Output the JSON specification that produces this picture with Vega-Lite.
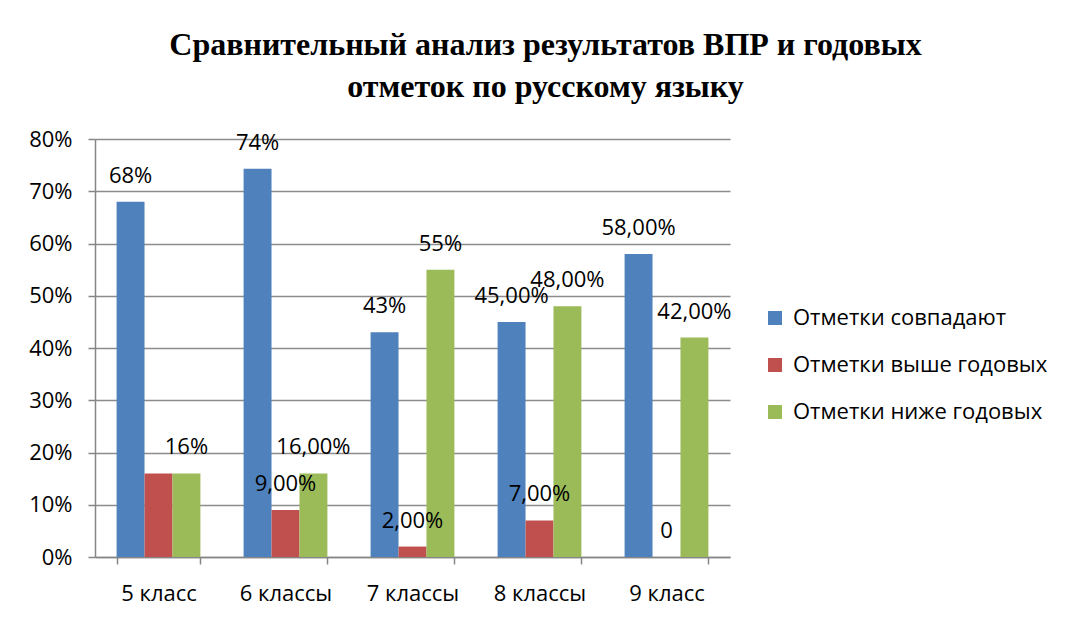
{
  "$schema": "https://vega.github.io/schema/vega-lite/v6.json",
  "width": 635,
  "height": 418,
  "autosize": {"type": "none"},
  "padding": {"left": 95, "top": 139, "right": 341, "bottom": 60},
  "background": "white",
  "title": {
    "text": ["Сравнительный анализ результатов ВПР и годовых", "отметок по русскому языку"],
    "font": "Liberation Serif",
    "fontSize": 32,
    "fontWeight": "bold",
    "color": "#000000",
    "anchor": "middle",
    "dx": 133,
    "offset": 24,
    "lineHeight": 42
  },
  "data": {
    "values": [
      {"cls": "5 класс", "series": "Отметки совпадают", "value": 68, "label": "68%"},
      {"cls": "5 класс", "series": "Отметки выше годовых", "value": 16, "label": ""},
      {"cls": "5 класс", "series": "Отметки ниже годовых", "value": 16, "label": "16%"},
      {"cls": "6 классы", "series": "Отметки совпадают", "value": 74.3, "label": "74%"},
      {"cls": "6 классы", "series": "Отметки выше годовых", "value": 9, "label": "9,00%"},
      {"cls": "6 классы", "series": "Отметки ниже годовых", "value": 16, "label": "16,00%"},
      {"cls": "7 классы", "series": "Отметки совпадают", "value": 43, "label": "43%"},
      {"cls": "7 классы", "series": "Отметки выше годовых", "value": 2, "label": "2,00%"},
      {"cls": "7 классы", "series": "Отметки ниже годовых", "value": 55, "label": "55%"},
      {"cls": "8 классы", "series": "Отметки совпадают", "value": 45, "label": "45,00%"},
      {"cls": "8 классы", "series": "Отметки выше годовых", "value": 7, "label": "7,00%"},
      {"cls": "8 классы", "series": "Отметки ниже годовых", "value": 48, "label": "48,00%"},
      {"cls": "9 класс", "series": "Отметки совпадают", "value": 58, "label": "58,00%"},
      {"cls": "9 класс", "series": "Отметки выше годовых", "value": 0, "label": "0"},
      {"cls": "9 класс", "series": "Отметки ниже годовых", "value": 42, "label": "42,00%"}
    ]
  },
  "encoding": {
    "x": {
      "field": "cls",
      "type": "nominal",
      "sort": null,
      "scale": {"paddingInner": 0.34, "paddingOuter": 0.17},
      "axis": {
        "title": null,
        "labelAngle": 0,
        "labelFont": "Open Sans",
        "labelFontSize": 22,
        "labelColor": "#000000",
        "labelPadding": 19,
        "tickBand": "extent",
        "tickSize": 7,
        "tickColor": "#868686",
        "domainColor": "#868686",
        "domainWidth": 1.5,
        "tickWidth": 1.5,
        "grid": false
      }
    },
    "xOffset": {
      "field": "series",
      "type": "nominal",
      "sort": ["Отметки совпадают", "Отметки выше годовых", "Отметки ниже годовых"]
    },
    "y": {
      "field": "value",
      "type": "quantitative",
      "scale": {"domain": [0, 80], "nice": false},
      "axis": {
        "title": null,
        "values": [0, 10, 20, 30, 40, 50, 60, 70, 80],
        "labelExpr": "datum.value + '%'",
        "labelFont": "Open Sans",
        "labelFontSize": 22,
        "labelColor": "#000000",
        "labelPadding": 16,
        "tickSize": 7,
        "tickColor": "#868686",
        "tickWidth": 1.5,
        "domainColor": "#868686",
        "domainWidth": 1.5,
        "gridColor": "#8c8c8c",
        "gridWidth": 1.5
      }
    }
  },
  "layer": [
    {
      "mark": {"type": "bar"},
      "encoding": {
        "color": {
          "field": "series",
          "type": "nominal",
          "sort": ["Отметки совпадают", "Отметки выше годовых", "Отметки ниже годовых"],
          "scale": {
            "domain": ["Отметки совпадают", "Отметки выше годовых", "Отметки ниже годовых"],
            "range": ["#4F81BD", "#C0504D", "#9BBB59"]
          },
          "legend": {
            "title": null,
            "orient": "none",
            "legendX": 669,
            "legendY": 168,
            "padding": 0,
            "symbolType": "square",
            "symbolSize": 196,
            "symbolStrokeWidth": 0,
            "symbolOpacity": 1,
            "labelFont": "Open Sans",
            "labelFontSize": 22,
            "labelColor": "#000000",
            "labelOffset": 7,
            "labelLimit": 400,
            "rowPadding": 25
          }
        }
      }
    },
    {
      "mark": {"type": "text", "baseline": "middle", "align": "center", "dy": -26, "font": "Open Sans", "fontSize": 22, "color": "#000000"},
      "encoding": {
        "text": {"field": "label"}
      }
    }
  ],
  "config": {
    "view": {"stroke": null}
  }
}
